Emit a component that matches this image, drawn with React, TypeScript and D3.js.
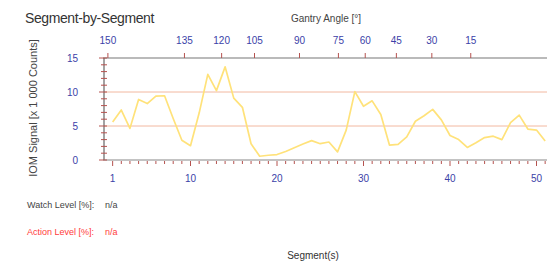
import { useRef, useEffect } from 'react';
import * as d3 from 'd3';

/* ── IOM signal per segment (x 1 000 counts) ───────────────────── */
const SEGMENTS = d3.range(1, 52);
const SIGNAL = [
  5.6, 7.35, 4.65, 8.9, 8.3, 9.4, 9.45, 6.1, 2.9, 2.1,
  6.9, 12.6, 10.2, 13.7, 9.1, 7.75, 2.4, 0.55, 0.7, 0.8,
  1.25, 1.8, 2.35, 2.85, 2.4, 2.65, 1.2, 4.4, 10.05, 7.9,
  8.7, 6.7, 2.2, 2.3, 3.4, 5.7, 6.5, 7.45, 5.9, 3.6,
  3.0, 1.85, 2.55, 3.3, 3.5, 3.0, 5.5, 6.6, 4.55, 4.4,
  2.8,
];

// Gantry angles and the segment position where each one falls
const GANTRY_ANGLES = [150, 135, 120, 105, 90, 75, 60, 45, 30, 15, 0];
const GANTRY_POS = [0.45, 9.3, 13.6, 17.4, 22.6, 27.1, 30.2, 33.8, 37.9, 42.4, 51.6];

const X_TICKS = [1, 10, 20, 30, 40, 50];
const Y_TICKS = [0, 5, 10, 15];
const GRID_LEVELS = [5, 10];

const FONT = '"Liberation Sans", Arial, sans-serif';
const BLUE = '#3b3fa8';
const TICK_RED = '#b5524f';

function SegmentChart() {
  const svgRef = useRef<SVGSVGElement>(null);

  useEffect(() => {
    const svg = d3.select(svgRef.current);
    svg.selectAll('*').remove();

    const left = 104, top = 58, bottom = 160, right = 600;

    const x = d3.scaleLinear().domain([0, 1]).range([left, left + 8.65]);
    const y = d3.scaleLinear().domain([0, 15]).range([bottom, top]);

    const g = svg.append('g').style('font-family', FONT);

    // Title + axis captions
    g.append('text').attr('x', 25).attr('y', 23)
      .style('font-size', '14px').style('fill', '#333').style('letter-spacing', '-0.4px')
      .text('Segment-by-Segment');
    g.append('text').attr('x', 326).attr('y', 22).attr('text-anchor', 'middle')
      .style('font-size', '10px').style('fill', '#444')
      .text('Gantry Angle [°]');
    g.append('text')
      .attr('transform', `translate(37,${108}) rotate(-90)`)
      .attr('text-anchor', 'middle')
      .style('font-size', '11px').style('fill', '#444')
      .text('IOM Signal [x 1 000 Counts]');

    // Grid lines at 5 and 10
    g.selectAll('line.grid').data(GRID_LEVELS).enter().append('line')
      .attr('x1', left).attr('x2', right)
      .attr('y1', d => y(d)).attr('y2', d => y(d))
      .attr('stroke', '#f2b8a0').attr('stroke-width', 1);

    // Plot frame: top + left + bottom
    g.append('line').attr('x1', left - 1).attr('x2', right).attr('y1', top).attr('y2', top)
      .attr('stroke', '#777').attr('stroke-width', 1.2);
    g.append('line').attr('x1', left).attr('x2', left).attr('y1', top).attr('y2', bottom)
      .attr('stroke', '#666').attr('stroke-width', 1.2);
    g.append('line').attr('x1', left - 1).attr('x2', right).attr('y1', bottom).attr('y2', bottom)
      .attr('stroke', '#888').attr('stroke-width', 1.2);

    // Y minor ticks every unit, crossing the axis
    g.selectAll('line.ytick').data(d3.range(0, 16)).enter().append('line')
      .attr('x1', d => left - (d % 5 === 0 ? 5 : 3)).attr('x2', left + 3)
      .attr('y1', d => y(d)).attr('y2', d => y(d))
      .attr('stroke', TICK_RED).attr('stroke-width', 1);

    g.selectAll('text.ylab').data(Y_TICKS).enter().append('text')
      .attr('x', 78).attr('y', d => y(d) + 3.5).attr('text-anchor', 'end')
      .style('font-size', '10px').style('fill', BLUE)
      .text(d => d);

    // Bottom ticks per segment
    g.selectAll('line.xtick').data(d3.range(1, 56)).enter().append('line')
      .attr('x1', d => x(d)).attr('x2', d => x(d))
      .attr('y1', bottom + 1).attr('y2', d => bottom + (X_TICKS.includes(d) ? 6 : 4))
      .attr('stroke', TICK_RED).attr('stroke-width', 1);

    g.selectAll('text.xlab').data(X_TICKS).enter().append('text')
      .attr('x', d => x(d)).attr('y', 182).attr('text-anchor', 'middle')
      .style('font-size', '10px').style('fill', BLUE)
      .text(d => d);

    // Top gantry axis
    g.selectAll('line.gtick').data(GANTRY_POS).enter().append('line')
      .attr('x1', d => x(d)).attr('x2', d => x(d))
      .attr('y1', top - 5).attr('y2', top)
      .attr('stroke', TICK_RED).attr('stroke-width', 1);

    g.selectAll('text.glab').data(GANTRY_ANGLES).enter().append('text')
      .attr('x', (d, i) => x(GANTRY_POS[i])).attr('y', 44).attr('text-anchor', 'middle')
      .style('font-size', '10px').style('fill', BLUE)
      .text(d => d);

    // Signal line
    const line = d3.line<number>()
      .x((d, i) => x(SEGMENTS[i]))
      .y(d => y(d));
    g.append('path').datum(SIGNAL)
      .attr('d', line)
      .attr('fill', 'none')
      .attr('stroke', '#ffe27a')
      .attr('stroke-width', 1.7)
      .attr('stroke-linejoin', 'round');

    // Levels
    g.append('text').attr('x', 27).attr('y', 208)
      .style('font-size', '9px').style('fill', '#444').text('Watch Level [%]:');
    g.append('text').attr('x', 105).attr('y', 208)
      .style('font-size', '9px').style('fill', '#444').text('n/a');
    g.append('text').attr('x', 27).attr('y', 235)
      .style('font-size', '9px').style('fill', '#ff3b3b').text('Action Level [%]:');
    g.append('text').attr('x', 105).attr('y', 235)
      .style('font-size', '9px').style('fill', '#ff3b3b').text('n/a');

    g.append('text').attr('x', 313).attr('y', 259).attr('text-anchor', 'middle')
      .style('font-size', '10px').style('fill', '#333').text('Segment(s)');
  }, []);

  return (
    <svg
      ref={svgRef}
      width={547}
      height={263}
      style={{ position: 'absolute', left: 0, top: 0, background: '#fff' }}
    />
  );
}

export default function App() {
  return <SegmentChart />;
}
